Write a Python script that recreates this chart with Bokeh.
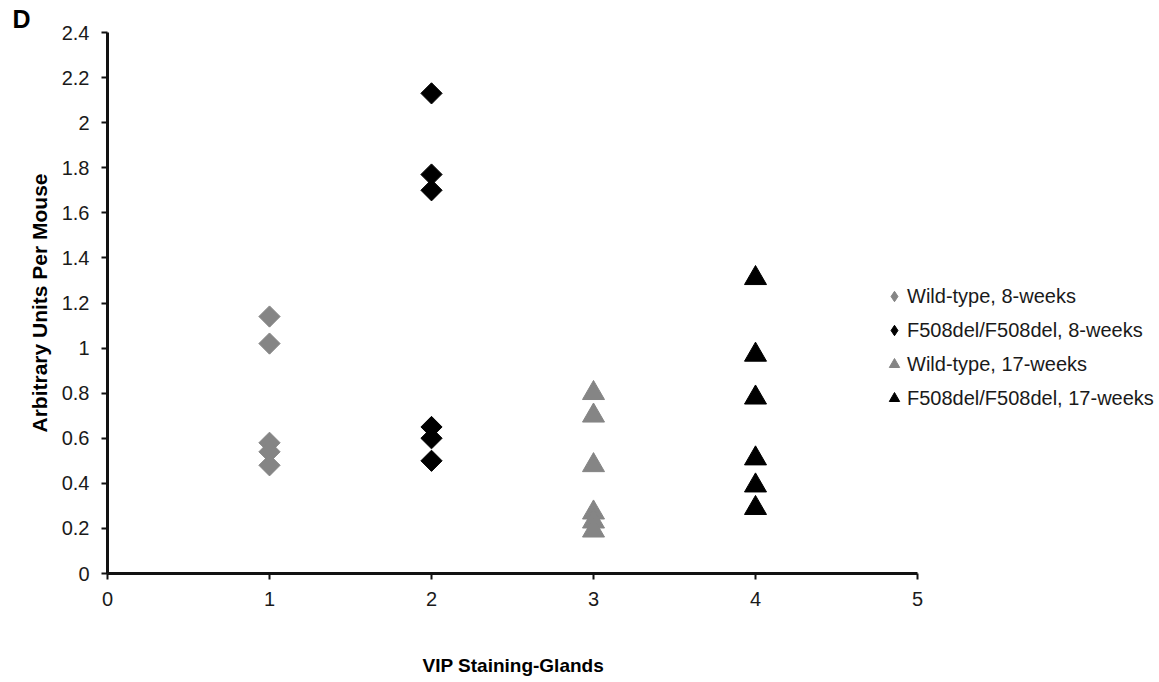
import math
from bokeh.plotting import figure
from bokeh.models import Legend, LegendItem, FixedTicker, Range1d, Title
from bokeh.embed import file_html
from bokeh.resources import INLINE

# Group position on the x axis and measured values (arbitrary units per mouse)
wt_8wk_x = [1, 1, 1, 1, 1]
wt_8wk_y = [1.14, 1.02, 0.58, 0.54, 0.48]

del_8wk_x = [2, 2, 2, 2, 2, 2]
del_8wk_y = [2.13, 1.77, 1.70, 0.65, 0.60, 0.50]

wt_17wk_x = [3, 3, 3, 3, 3, 3]
wt_17wk_y = [0.80, 0.70, 0.48, 0.27, 0.23, 0.19]

del_17wk_x = [4, 4, 4, 4, 4, 4]
del_17wk_y = [1.31, 0.97, 0.78, 0.51, 0.39, 0.29]

series_names = [
    "Wild-type, 8-weeks",
    "F508del/F508del, 8-weeks",
    "Wild-type, 17-weeks",
    "F508del/F508del, 17-weeks",
]

x_ticks = [0, 1, 2, 3, 4, 5]
y_ticks = [0, 0.2, 0.4, 0.6, 0.8, 1, 1.2, 1.4, 1.6, 1.8, 2, 2.2, 2.4]
y_tick_labels = ["0", "0.2", "0.4", "0.6", "0.8", "1", "1.2", "1.4", "1.6",
                 "1.8", "2", "2.2", "2.4"]

GRAY = "#858585"
BLACK = "#000000"
FONT = "Liberation Sans"

# The frame runs to the right edge so the legend sits inside it; the x axis
# itself is bounded to 0..5.
p = figure(width=1159, height=682, output_backend="svg", toolbar_location=None,
           x_range=Range1d(0, 1052 / 162), y_range=Range1d(0, 2.4),
           min_border_left=107, min_border_right=0,
           min_border_top=32, min_border_bottom=109)
p.outline_line_color = None
p.xgrid.visible = False
p.ygrid.visible = False
p.background_fill_color = "white"

# Panel letter
p.title.text = "D"
p.title.align = "left"
p.title.offset = -95
p.title.standoff = 0
p.title.text_font = FONT
p.title.text_font_size = "25px"
p.title.text_font_style = "bold"
p.title.text_color = "black"

r1 = p.scatter(wt_8wk_x, wt_8wk_y, marker="square", angle=math.pi / 4,
               size=15, fill_color=GRAY, line_color=GRAY)
r2 = p.scatter(del_8wk_x, del_8wk_y, marker="square", angle=math.pi / 4,
               size=15, fill_color=BLACK, line_color=BLACK)
r3 = p.scatter(wt_17wk_x, wt_17wk_y, marker="triangle",
               size=22, fill_color=GRAY, line_color=GRAY)
r4 = p.scatter(del_17wk_x, del_17wk_y, marker="triangle",
               size=22, fill_color=BLACK, line_color=BLACK)

# Hidden diamond renderers that only supply the legend swatches
# (legend swatches are drawn unrotated, so the rotated squares cannot be used)
k1 = p.scatter(wt_8wk_x, wt_8wk_y, marker="diamond", visible=False,
               fill_color=GRAY, line_color=GRAY)
k2 = p.scatter(del_8wk_x, del_8wk_y, marker="diamond", visible=False,
               fill_color=BLACK, line_color=BLACK)

# Axes
for ax in (p.xaxis[0], p.yaxis[0]):
    ax.axis_line_color = "#111111"
    ax.axis_line_width = 3
    ax.major_tick_line_color = "#111111"
    ax.major_tick_line_width = 2
    ax.major_tick_out = 6
    ax.major_tick_in = 0
    ax.minor_tick_line_color = None
    ax.major_label_text_font = FONT
    ax.major_label_text_font_size = "20px"
    ax.major_label_text_color = "#1a1a1a"
    ax.axis_label_text_font = FONT
    ax.axis_label_text_font_size = "20px"
    ax.axis_label_text_font_style = "bold"
    ax.axis_label_text_color = "black"

p.xaxis.bounds = (0, 5)
p.xaxis.ticker = FixedTicker(ticks=x_ticks)
p.yaxis.ticker = FixedTicker(ticks=y_ticks)
p.yaxis.major_label_overrides = dict(zip(y_ticks, y_tick_labels))
p.xaxis.major_label_standoff = 12
p.yaxis.major_label_standoff = 12
p.yaxis.axis_label = "Arbitrary Units Per Mouse"
p.yaxis.axis_label_text_font_size = "21px"
p.yaxis.axis_label_standoff = 8
# blank label row: spacing between the tick labels and the title below
p.xaxis.axis_label = " "
p.xaxis.axis_label_standoff = 19

# x-axis title centred under the 0..5 span of the axis
x_title = Title(text="VIP Staining-Glands", align="left", offset=315,
                vertical_align="top", standoff=4,
                text_font=FONT, text_font_size="19px",
                text_font_style="bold", text_color="black")
p.add_layout(x_title, "below")

legend = Legend(
    items=[LegendItem(label=n, renderers=[r]) for n, r in
           zip(series_names, [k1, k2, r3, r4])],
    location=(774, 161),
    orientation="vertical",
    background_fill_alpha=0,
    border_line_color=None,
    inactive_fill_alpha=0,
    label_text_font=FONT,
    label_text_font_size="20px",
    label_text_color="#1a1a1a",
    glyph_width=26,
    glyph_height=28,
    label_standoff=0,
    label_height=20,
    spacing=6,
    padding=0,
    margin=0,
)
p.add_layout(legend, "center")

open("out.html", "w").write(file_html(p, INLINE))
